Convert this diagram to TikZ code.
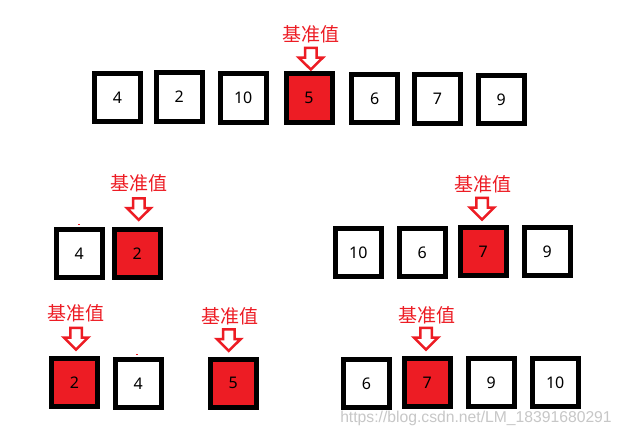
\documentclass[tikz,border=0pt]{standalone}
\usepackage{fontspec}
\setmainfont{Noto Sans}
\newfontfamily\cjk{Noto Sans CJK SC}
\newfontfamily\wmfont{Liberation Sans}
\definecolor{pivred}{HTML}{ED1C24}
\tikzset{
  cell/.style={draw=black, line width=5pt, minimum width=46pt, minimum height=48pt,
    inner sep=0pt, fill=white, font=\fontsize{16}{16}\selectfont, text=black},
  pivotcell/.style={cell, fill=pivred},
  pivlabel/.style={text=pivred, font=\cjk\fontsize{19}{19}\selectfont, inner sep=0pt},
  pivotarrow/.pic={
    \draw[draw=pivred, line width=2.5pt, line join=miter, fill=white]
      (-5.75,1.25) -- (5.75,1.25) -- (5.75,11) -- (12,11) -- (0,22.8) -- (-12,11) -- (-5.75,11) -- cycle;
  }
}
\begin{document}
\begin{tikzpicture}[x=1pt,y=-1pt]
\useasboundingbox[fill=white] (0,0) rectangle (621,436);

% top row
\node[cell] (t1) at (117.5,97.5) {4};
\node[cell] (t2) at (179.3,97) {2};
\node[cell] (t3) at (243.2,98) {10};
\node[pivotcell] (t4) at (309,98) {5};
\node[cell] (t5) at (374.8,98.5) {6};
\node[cell] (t6) at (437.5,99) {7};
\node[cell] (t7) at (501.2,99.5) {9};
\node[pivlabel] (lt) at (311,34) {基准值};
\pic at (310.8,46.7) {pivotarrow};

% middle left
\node[cell] (ml1) at (79.3,253.3) {4};
\node[pivotcell] (ml2) at (137.3,253.5) {2};
\node[pivlabel] (lml) at (139,183) {基准值};
\pic at (138.8,197) {pivotarrow};
\draw[pivred, line width=1pt] (78,224) -- (80,224);

% middle right
\node[cell] (mr1) at (358.3,252.3) {10};
\node[cell] (mr2) at (422.3,252.5) {6};
\node[pivotcell] (mr3) at (483.3,251.5) {7};
\node[cell] (mr4) at (547.3,251.5) {9};
\node[pivlabel] (lmr) at (483,184.5) {基准值};
\pic at (482,196.7) {pivotarrow};

% bottom left
\node[pivotcell] (bl1) at (74.5,382.5) {2};
\node[cell] (bl2) at (138.3,383.3) {4};
\node[pivlabel] (lbl1) at (76,313) {基准值};
\pic at (76,326.7) {pivotarrow};
\draw[pivred, line width=1pt] (136,354) -- (138,354);

\node[pivotcell] (bl3) at (233.3,383.3) {5};
\node[pivlabel] (lbl2) at (229.5,316) {基准值};
\pic at (228.8,328) {pivotarrow};

% bottom right
\node[cell] (br1) at (366.5,383.3) {6};
\node[pivotcell] (br2) at (427.2,382.3) {7};
\node[cell] (br3) at (491.2,382.5) {9};
\node[cell] (br4) at (555.2,382.5) {10};
\node[pivlabel] (lbr) at (426.5,315) {基准值};
\pic at (426,326.7) {pivotarrow};

% watermark
\node[text=black!22, font=\wmfont\fontsize{15.7}{15.7}\selectfont, inner sep=0pt] (wm) at (476,418) {https://blog.csdn.net/LM\_18391680291};
\end{tikzpicture}
\end{document}
